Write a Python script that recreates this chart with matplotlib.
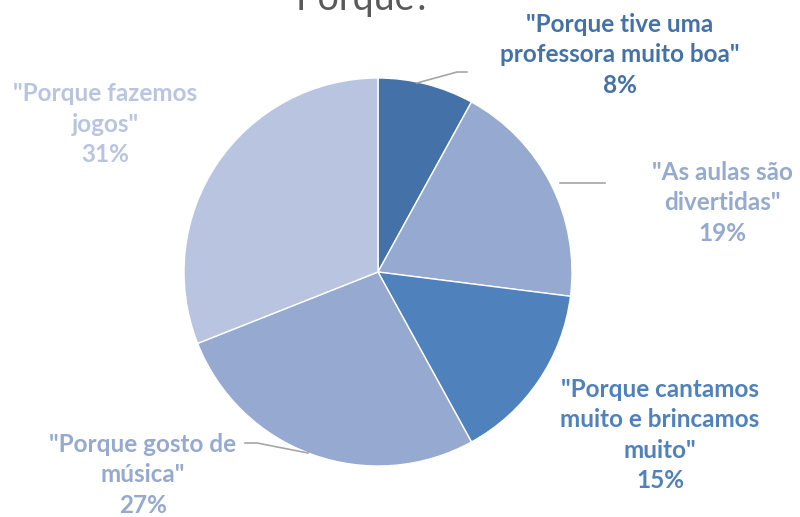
import matplotlib.pyplot as plt

labels = ['"Porque tive uma\nprofessora muito boa"', '"As aulas são\ndivertidas"',
          '"Porque cantamos\nmuito e brincamos\nmuito"', '"Porque gosto de\nmúsica"',
          '"Porque fazemos\njogos"']
shares = [8, 19, 15, 27, 31]
colors = ["#4472A8", "#95A9D1", "#4F81BD", "#95A9D1", "#B9C5E0"]
label_colors = ["#4472A8", "#95A9D1", "#4F81BD", "#95A9D1", "#B9C5E0"]

W, H = 800, 517
fig = plt.figure(figsize=(8, 5.17), dpi=100)
ax = fig.add_axes([0, 0, 1, 1])

cx, cy, r = 378, H - 272, 194
ax.pie(shares, colors=colors, startangle=90, counterclock=False,
       center=(cx, cy), radius=r, frame=True,
       wedgeprops={"edgecolor": "white", "linewidth": 1.0})
ax.set_xlim(0, W)
ax.set_ylim(0, H)
ax.set_aspect("equal")
ax.axis("off")

# label anchors (pixel coords from top)
pos = [(620, 55), (722, 203), (660, 435), (143, 475), (105, 124)]
font = ["Lato", "DejaVu Sans"]
for lab, s, c, (px, py) in zip(labels, shares, label_colors, pos):
    ax.text(px, H - py, f"{lab}\n{s}%", ha="center", va="center", color=c,
            fontsize=17.5, fontweight="bold", family=font, linespacing=1.4)

# leader lines
leaders = [
    [(417, 83), (457, 72), (467, 72)],
    [(560, 183), (605, 183)],
    [(245, 443), (257, 443), (308, 453)],
]
for pts in leaders:
    xs = [p[0] for p in pts]
    ys = [H - p[1] for p in pts]
    ax.plot(xs, ys, color="#A6A6A6", linewidth=1.2)

ax.text(364, H - 10, "Porque?", ha="center", va="baseline", color="#595959",
        fontsize=27, family=font)

fig.savefig("out.png", dpi=100)
